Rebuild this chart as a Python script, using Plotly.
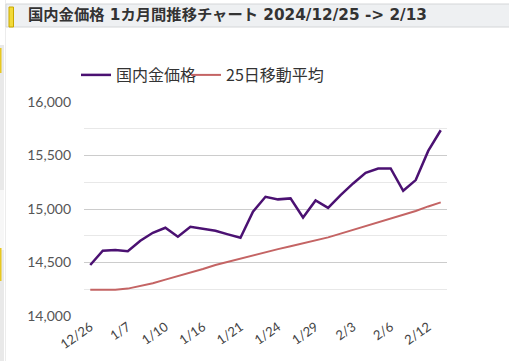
import plotly.graph_objects as go

dates = ["12/26", "12/27", "1/6", "1/7", "1/8", "1/9", "1/10", "1/14", "1/15", "1/16",
         "1/17", "1/20", "1/21", "1/22", "1/23", "1/24", "1/27", "1/28", "1/29", "1/30",
         "1/31", "2/3", "2/4", "2/5", "2/6", "2/7", "2/10", "2/12", "2/13"]
gold_price = [14477, 14610, 14617, 14605, 14703, 14778, 14825, 14741, 14834, 14815,
              14797, 14763, 14731, 14975, 15114, 15090, 15099, 14921, 15080, 15011,
              15130, 15239, 15338, 15379, 15379, 15170, 15270, 15543, 15736]
ma25 = [14246, 14248, 14245, 14256, 14278, 14306, 14340, 14371, 14405, 14439,
        14477, 14508, 14539, 14570, 14601, 14625, 14652, 14679, 14707, 14735,
        14770, 14805, 14840, 14876, 14911, 14946, 14982, 15024, 15062]
tick_labels = ["12/26", "1/7", "1/10", "1/16", "1/21", "1/24", "1/29", "2/3", "2/6", "2/12"]
y_ticks = [14000, 14500, 15000, 15500, 16000]

W, H = 509, 361
L, R, T, B = 84, 447, 102, 316


def px(x):
    return (x - L) / (R - L)


def py(y):
    return (B - y) / (B - T)


def rect(x0, x1, y0, y1, fill, line=None):
    return dict(type="rect", xref="paper", yref="paper", x0=px(x0), x1=px(x1), y0=py(y1), y1=py(y0),
                fillcolor=fill, line=line or dict(width=0), layer="below")


fig = go.Figure()
fig.add_trace(go.Scatter(x=dates, y=gold_price, mode="lines", name="国内金価格",
                         line=dict(color="#4b1172", width=2.5), legend="legend"))
fig.add_trace(go.Scatter(x=dates, y=ma25, mode="lines", name="25日移動平均",
                         line=dict(color="#c46464", width=2), legend="legend2"))

shapes = [
    rect(0, 4, 45, 361, "#e9e9e9"),
    rect(0, 4, 190, 250, "#f7f7f7"),
    rect(0, 1.5, 48, 73, "#e8c820"),
    rect(0, 1.5, 248, 281, "#e8c820"),
    dict(type="line", xref="paper", yref="paper", x0=px(5.5), x1=px(5.5), y0=py(361), y1=py(0),
         line=dict(color="#ececec", width=1), layer="below"),
    rect(6, 512, 4, 27, "#eef0f2", dict(color="#d4d6d8", width=1)),
    rect(9, 13.5, 7, 27, "#f2da3a", dict(color="#c9a800", width=1)),
]

legend_common = dict(orientation="h", xanchor="left", yanchor="middle",
                     font=dict(family="Noto Sans CJK JP", size=16, color="#333333"),
                     itemwidth=30, bgcolor="rgba(0,0,0,0)")

fig.update_layout(
    width=W, height=H,
    margin=dict(l=L, r=W - R, t=T, b=H - B, pad=0, autoexpand=False),
    paper_bgcolor="white", plot_bgcolor="white",
    showlegend=True,
    legend=dict(x=px(76), y=py(75), **legend_common),
    legend2=dict(x=px(186), y=py(75), **legend_common),
    shapes=shapes,
    annotations=[dict(text="<b>国内金価格 1カ月間推移チャート 2024/12/25 -> 2/13</b>",
                      xref="paper", yref="paper", x=px(26), y=py(15.5),
                      xanchor="left", yanchor="middle", showarrow=False,
                      font=dict(family="DejaVu Sans, Noto Sans CJK JP", size=15.3, color="#333333"))],
    xaxis=dict(type="category", range=[-0.5, len(dates) - 0.5], tickmode="array",
               tickvals=tick_labels, ticktext=tick_labels, tickangle=-35, automargin=False,
               showgrid=False, zeroline=False, showline=False, ticks="",
               tickfont=dict(family="Lato", size=13, color="#444444")),
    yaxis=dict(range=[14000, 16000], tickvals=y_ticks, tickformat=",", showgrid=True,
               automargin=False,
               gridcolor="#cccccc", gridwidth=1, zeroline=False, showline=False, ticks="",
               ticklabelstandoff=12,
               tickfont=dict(family="Lato", size=14, color="#555555"),
               minor=dict(dtick=250, showgrid=True, gridcolor="#e8e8e8", gridwidth=1)),
)

fig.write_html("out.html", config={"displayModeBar": False},
               post_script="document.body.style.margin='0';document.body.style.overflow='hidden';")
